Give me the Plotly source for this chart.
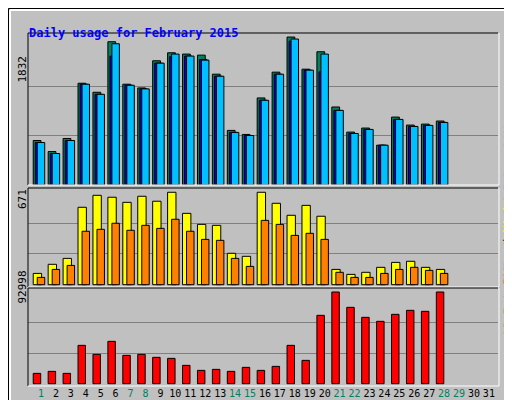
import plotly.graph_objects as go

days = list(range(1, 32))
day_nums = list(range(1, 29))

hits = [551, 414, 576, 1260, 1148, 1774, 1248, 1202, 1538, 1637, 1621, 1608, 1372, 676,
        626, 1078, 1397, 1832, 1434, 1650, 966, 655, 705, 493, 841, 742, 754, 792]
files = [526, 390, 551, 1248, 1123, 1596, 1235, 1190, 1509, 1588, 1596, 1554, 1347, 651,
         613, 1049, 1372, 1782, 1422, 1401, 924, 638, 688, 493, 812, 725, 738, 775]
pages = [526, 390, 551, 1248, 1123, 1749, 1235, 1190, 1509, 1621, 1596, 1546, 1347, 651,
         613, 1049, 1372, 1807, 1422, 1621, 924, 638, 688, 493, 812, 725, 738, 775]
visits = [82, 148, 191, 562, 649, 635, 598, 642, 606, 671, 518, 438, 431, 228,
          206, 671, 591, 504, 576, 497, 111, 75, 90, 126, 162, 170, 126, 111]
sites = [53, 111, 140, 388, 402, 446, 395, 431, 409, 475, 388, 329, 322, 191,
         133, 467, 438, 358, 373, 329, 90, 53, 53, 82, 111, 126, 104, 82]
kbytes = [10484, 12513, 10484, 38893, 29762, 42951, 28747, 29762, 26718, 25703, 18601, 13528,
          14542, 12513, 16572, 13528, 17586, 38893, 23673, 69328, 92998, 77446, 67299, 63241,
          70344, 74402, 73387, 92998]
weekend = [1, 7, 8, 14, 15, 21, 22, 28, 29]

W, H = 512, 400
L, R, T, B = 20, 22, 25, 22
PW, PH = W - L - R, H - T - B


def px(x):
    return (x - L) / PW


def py(y):
    return (H - B - y) / PH


line = dict(color="black", width=1)
fig = go.Figure()
fig.add_bar(x=day_nums, y=hits, width=0.52, offset=-0.52, marker=dict(color="#00805c", line=line), yaxis="y")
fig.add_bar(x=day_nums, y=files, width=0.5, offset=-0.38, marker=dict(color="#0000ff", line=line), yaxis="y")
fig.add_bar(x=day_nums, y=pages, width=0.5, offset=-0.25, marker=dict(color="#00c0ff", line=line), yaxis="y")
fig.add_bar(x=day_nums, y=visits, width=0.56, offset=-0.52, marker=dict(color="#ffff00", line=line), yaxis="y2")
fig.add_bar(x=day_nums, y=sites, width=0.5, offset=-0.25, marker=dict(color="#ff8000", line=line), yaxis="y2")
fig.add_bar(x=day_nums, y=kbytes, width=0.5, offset=-0.52, marker=dict(color="#ff0000", line=line), yaxis="y3")

ticktext = []
for d in days:
    c = "#008060" if d in weekend else "black"
    ticktext.append("<span style='color:%s'>%d</span>" % (c, d))

grid = dict(showgrid=True, gridcolor="#808080", gridwidth=1, showticklabels=False,
            zeroline=False, ticks="", automargin=False)
fig.update_layout(
    width=W, height=H, margin=dict(l=L, r=R, t=T, b=B, autoexpand=False),
    paper_bgcolor="#c0c0c0", plot_bgcolor="#c0c0c0",
    barmode="overlay", showlegend=False,
    font=dict(family="DejaVu Sans Mono", size=11, color="black"),
    xaxis=dict(range=[0.13, 31.61], tickvals=days, ticktext=ticktext, showgrid=False,
               zeroline=False, ticks="", tickangle=0, tickfont=dict(size=10),
               automargin=False, anchor="y3"),
    yaxis=dict(domain=[py(177), py(25)], range=[0, 1882], tickvals=[1832 / 3, 1832 * 2 / 3], **grid),
    yaxis2=dict(domain=[py(279), py(180)], range=[-16.7, 702], tickvals=[671 / 3, 671 * 2 / 3], **grid),
    yaxis3=dict(domain=[py(378), py(280)], range=[-2333, 97055], tickvals=[92998 / 3, 92998 * 2 / 3], **grid),
)

ann = [
    dict(x=px(19), y=py(16), text="<b>Daily usage for February 2015</b>", xanchor="left",
         font=dict(color="#0000ff", size=12)),
    dict(x=px(14), y=py(46), text="1832", textangle=-90),
    dict(x=px(14), y=py(191), text="671", textangle=-90),
    dict(x=px(14), y=py(298), text="92998", textangle=-90),
    dict(x=px(500), y=py(100), textangle=-90,
         text="<span style='color:#00c0ff'>Pages</span> / <span style='color:#0000ff'>Files</span> / <span style='color:#008060'>Hits</span>"),
    dict(x=px(500), y=py(230), textangle=-90,
         text="<span style='color:#ff8000'>Sites</span> / <span style='color:#ffff00'>Visits</span>"),
    dict(x=px(500), y=py(328), textangle=-90,
         text="<span style='color:#ff0000'>kB F</span> / <span style='color:#0000ff'>kB In</span> / <span style='color:#008060'>kB Out</span>"),
]
for a in ann:
    a.update(xref="paper", yref="paper", showarrow=False)
    a.setdefault("xanchor", "center")
fig.update_layout(annotations=ann)

shapes = []
# panel frames: dark top/left, white bottom/right
for top, bot in [(25, 177), (180, 279), (280, 378)]:
    shapes.append(dict(type="line", x0=px(20), x1=px(490), y0=py(top), y1=py(top), line=dict(color="black", width=1)))
    shapes.append(dict(type="line", x0=px(20), x1=px(20), y0=py(top), y1=py(bot), line=dict(color="black", width=1)))
    shapes.append(dict(type="line", x0=px(20), x1=px(491), y0=py(bot), y1=py(bot), line=dict(color="white", width=1)))
    shapes.append(dict(type="line", x0=px(491), x1=px(491), y0=py(top), y1=py(bot), line=dict(color="white", width=1)))
# outer border with bevel
shapes.append(dict(type="rect", x0=px(0.5), x1=px(511.5), y0=py(399.5), y1=py(0.5), line=dict(color="black", width=1)))
shapes.append(dict(type="line", x0=px(2), x1=px(509), y0=py(2), y1=py(2), line=dict(color="white", width=2)))
shapes.append(dict(type="line", x0=px(2), x1=px(2), y0=py(2), y1=py(397), line=dict(color="white", width=2)))
shapes.append(dict(type="line", x0=px(2), x1=px(510), y0=py(397), y1=py(397), line=dict(color="#808080", width=3)))
shapes.append(dict(type="line", x0=px(509), x1=px(509), y0=py(2), y1=py(397), line=dict(color="#808080", width=3)))
for s in shapes:
    s.update(xref="paper", yref="paper", layer="above")
fig.update_layout(shapes=shapes)

fig.write_html("out.html")
